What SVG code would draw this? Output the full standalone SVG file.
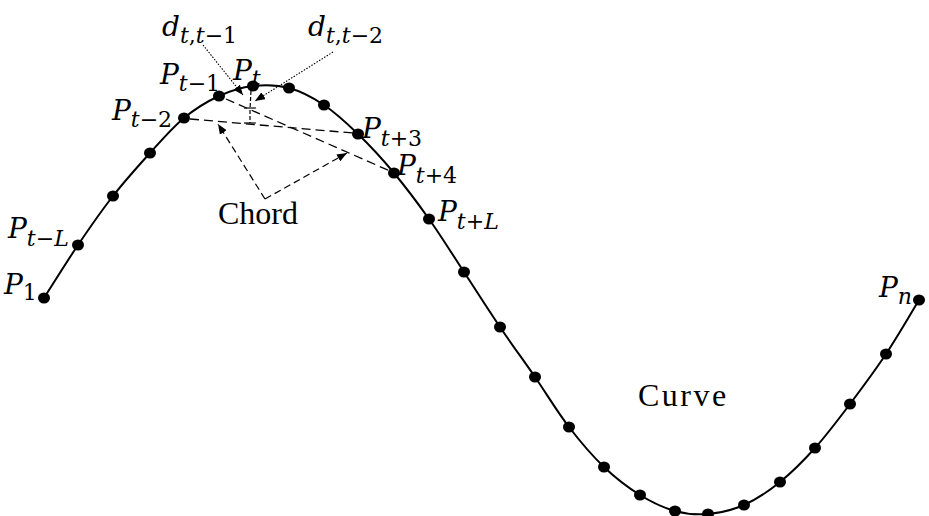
<svg xmlns="http://www.w3.org/2000/svg" width="929" height="516" viewBox="0 0 929 516">
<style>
.curve{fill:none;stroke:#000;stroke-width:2}
.dot{fill:#000}
.chord{fill:none;stroke:#000;stroke-width:1.3;stroke-dasharray:9 5}
.perp{fill:none;stroke:#000;stroke-width:1.2;stroke-dasharray:4 2}
.tick{fill:none;stroke:#000;stroke-width:1.2}
.dotted{fill:none;stroke:#000;stroke-width:1.1;stroke-dasharray:1.5 1.5}
.ptr{fill:none;stroke:#000;stroke-width:1.2;stroke-dasharray:7 4}
.lab{font-family:"DejaVu Serif","Liberation Serif",serif;font-size:28px;fill:#000}
.i{font-style:italic}
.sub{font-size:22px}
.word{font-family:"Liberation Serif",serif;font-size:32px;fill:#000}
</style>
<defs>
<marker id="ah" viewBox="0 0 10 8" refX="10" refY="4" markerWidth="10" markerHeight="8" markerUnits="userSpaceOnUse" orient="auto">
<path d="M0,0 L10,4 L0,8 Z" fill="#000"/>
</marker>
</defs>
<rect width="929" height="516" fill="#fff"/>
<g id="curve">
<path class="curve" d="M44,298 C49.7,289.2 66.5,262 78,245 C89.5,228 101,211.3 113,196 C125,180.7 138.2,166 150,153 C161.8,140 172.5,127.5 184,118 C195.5,108.5 207.5,101.3 219,96 C230.5,90.7 241.3,87.3 253,86 C264.7,84.7 277.2,84.8 289,88 C300.8,91.2 312.5,97.3 324,105 C335.5,112.7 346.3,122.7 358,134 C369.7,145.3 382.2,158.8 394,173 C405.8,187.2 417.3,202.5 429,219 C440.7,235.5 452.2,254 464,272 C475.8,290 488.2,309.5 500,327 C511.8,344.5 523.5,360.3 535,377 C546.5,393.7 557.5,412 569,427 C580.5,442 592.2,455.7 604,467 C615.8,478.3 628.2,487.7 640,495 C651.8,502.3 663.7,507.8 675,511 C686.3,514.2 696.5,515 708,514 C719.5,513 732,510.3 744,505 C756,499.7 768.2,491.5 780,482 C791.8,472.5 803.3,461 815,448 C826.7,435 838.2,419.7 850,404 C861.8,388.3 874.5,371.3 886,354 C897.5,336.7 913.5,309 919,300"/>
</g>
<g id="points">
<ellipse class="dot" cx="44" cy="298" rx="6" ry="5.5"/>
<ellipse class="dot" cx="78" cy="245" rx="6" ry="5.5"/>
<ellipse class="dot" cx="113" cy="196" rx="6" ry="5.5"/>
<ellipse class="dot" cx="150" cy="153" rx="6" ry="5.5"/>
<ellipse class="dot" cx="184" cy="118" rx="6" ry="5.5"/>
<ellipse class="dot" cx="219" cy="96" rx="6" ry="5.5"/>
<ellipse class="dot" cx="253" cy="86" rx="6" ry="5.5"/>
<ellipse class="dot" cx="289" cy="88" rx="6" ry="5.5"/>
<ellipse class="dot" cx="324" cy="105" rx="6" ry="5.5"/>
<ellipse class="dot" cx="358" cy="134" rx="6" ry="5.5"/>
<ellipse class="dot" cx="394" cy="173" rx="6" ry="5.5"/>
<ellipse class="dot" cx="429" cy="219" rx="6" ry="5.5"/>
<ellipse class="dot" cx="464" cy="272" rx="6" ry="5.5"/>
<ellipse class="dot" cx="500" cy="327" rx="6" ry="5.5"/>
<ellipse class="dot" cx="535" cy="377" rx="6" ry="5.5"/>
<ellipse class="dot" cx="569" cy="427" rx="6" ry="5.5"/>
<ellipse class="dot" cx="604" cy="467" rx="6" ry="5.5"/>
<ellipse class="dot" cx="640" cy="495" rx="6" ry="5.5"/>
<ellipse class="dot" cx="675" cy="511" rx="6" ry="5.5"/>
<ellipse class="dot" cx="708" cy="514" rx="6" ry="5.5"/>
<ellipse class="dot" cx="744" cy="505" rx="6" ry="5.5"/>
<ellipse class="dot" cx="780" cy="482" rx="6" ry="5.5"/>
<ellipse class="dot" cx="815" cy="448" rx="6" ry="5.5"/>
<ellipse class="dot" cx="850" cy="404" rx="6" ry="5.5"/>
<ellipse class="dot" cx="886" cy="354" rx="6" ry="5.5"/>
<ellipse class="dot" cx="919" cy="300" rx="6" ry="5.5"/>
</g>
<g id="connectors">
<line class="chord" x1="190" y1="119" x2="353" y2="133"/>
<line class="chord" x1="226" y1="99" x2="390" y2="171"/>
<line class="perp" x1="251" y1="91" x2="250" y2="109"/>
<line class="tick" x1="244" y1="108" x2="256" y2="108"/>
<line class="perp" x1="250" y1="110" x2="250" y2="123"/>
<line class="tick" x1="244" y1="123" x2="256" y2="123"/>
<line class="dotted" x1="203" y1="45" x2="243" y2="95" marker-end="url(#ah)"/>
<line class="dotted" x1="333" y1="52" x2="255" y2="101" marker-end="url(#ah)"/>
<line class="ptr" x1="265" y1="199" x2="218" y2="124" marker-end="url(#ah)"/>
<line class="ptr" x1="265" y1="199" x2="347" y2="153" marker-end="url(#ah)"/>
</g>
<g id="labels">
<text class="lab" x="162" y="36"><tspan class="i">d</tspan><tspan class="sub" dy="7"><tspan class="i">t</tspan>,<tspan class="i">t</tspan>−1</tspan></text>
<text class="lab" x="308" y="36"><tspan class="i">d</tspan><tspan class="sub" dy="7"><tspan class="i">t</tspan>,<tspan class="i">t</tspan>−2</tspan></text>
<text class="lab" x="160" y="84"><tspan class="i">P</tspan><tspan class="sub" dy="7"><tspan class="i">t</tspan>−1</tspan></text>
<text class="lab" x="233" y="80"><tspan class="i">P</tspan><tspan class="sub" dy="6"><tspan class="i">t</tspan></tspan></text>
<text class="lab" x="112" y="120"><tspan class="i">P</tspan><tspan class="sub" dy="7"><tspan class="i">t</tspan>−2</tspan></text>
<text class="lab" x="362" y="138"><tspan class="i">P</tspan><tspan class="sub" dy="8"><tspan class="i">t</tspan>+3</tspan></text>
<text class="lab" x="397" y="175"><tspan class="i">P</tspan><tspan class="sub" dy="8"><tspan class="i">t</tspan>+4</tspan></text>
<text class="lab" x="438" y="221"><tspan class="i">P</tspan><tspan class="sub" dy="8"><tspan class="i">t</tspan>+<tspan class="i">L</tspan></tspan></text>
<text class="lab" x="8" y="238"><tspan class="i">P</tspan><tspan class="sub" dy="8"><tspan class="i">t</tspan>−<tspan class="i">L</tspan></tspan></text>
<text class="lab" x="4" y="294"><tspan class="i">P</tspan><tspan class="sub" dy="6">1</tspan></text>
<text class="lab" x="879" y="297"><tspan class="i">P</tspan><tspan class="sub" dy="7"><tspan class="i">n</tspan></tspan></text>
<text class="word" x="218" y="224">Chord</text>
<text class="word" x="638" y="406" letter-spacing="2.5">Curve</text>
</g>
</svg>
